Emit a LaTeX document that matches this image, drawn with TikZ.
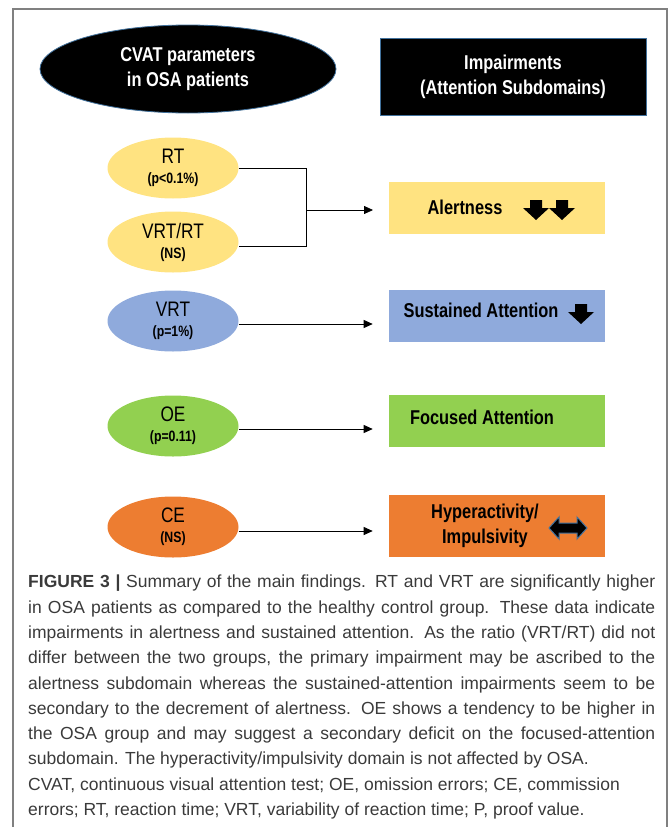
\documentclass[tikz,border=0pt]{standalone}
\usepackage{fontspec}
\setmainfont{Liberation Sans}
\newfontfamily\narrowfont[FakeStretch=0.82]{Liberation Sans}
\usepackage{xcolor}
\usepackage{tikz}
\usetikzlibrary{shapes.geometric, arrows.meta, positioning, calc}
\definecolor{frameGray}{HTML}{808080}
\definecolor{edgeBlue}{HTML}{41719C}
\definecolor{capGray}{HTML}{3A3A3A}
\definecolor{ylw}{HTML}{FFE381}
\definecolor{blu}{HTML}{8FAADC}
\definecolor{grn}{HTML}{92D050}
\definecolor{orn}{HTML}{ED7D31}
\tikzstyle{header} = [fill=black, draw=edgeBlue, line width=0.8pt, text=white, align=center, font=\narrowfont\bfseries\fontsize{20}{25}\selectfont]
\tikzstyle{param} = [ellipse, minimum width=131pt, minimum height=61pt, inner sep=0pt, align=center, font=\narrowfont\fontsize{21}{20}\selectfont]
\tikzstyle{subdom} = [rectangle, minimum width=216pt, minimum height=52pt, inner sep=0pt]
\tikzstyle{subtext} = [inner sep=0pt, align=center, font=\narrowfont\bfseries\fontsize{20}{25}\selectfont]
\tikzstyle{arrow} = [line width=0.8pt, -{Triangle[length=9pt,width=8pt]}]
\newcommand{\pval}[1]{{\bfseries\fontsize{15}{15}\selectfont #1}}
% block arrow pointing down, centred on #1
\newcommand{\dnblock}[1]{\fill (#1) ++(-6,-10) -- ++(12,0) -- ++(0,8) -- ++(7,0) -- ++(-13,12) -- ++(-13,-12) -- ++(7,0) -- cycle;}

\begin{document}
\begin{tikzpicture}[x=1pt, y=-1pt]
\useasboundingbox (0,0) rectangle (669,827);
% frame
\draw [frameGray, line width=1.2pt] (13,827) -- (13,9) -- (667,9) -- (667,827);

% headers
\node (cvat) [header, ellipse, minimum width=296pt, minimum height=88pt, inner sep=0pt] at (188,69) {CVAT parameters\\in OSA patients};
\node (impair) [header, rectangle, minimum width=266pt, minimum height=77pt, inner sep=0pt] at (513,76.5) {Impairments\\(Attention Subdomains)};

% parameters
\node (rt) [param, fill=ylw] at (173,168) {RT\\\pval{(p<0.1\%)}};
\node (vrtrt) [param, fill=ylw] at (173,242) {VRT/RT\\\pval{(NS)}};
\node (vrt) [param, fill=blu] at (173,321) {VRT\\\pval{(p=1\%)}};
\node (oe) [param, fill=grn] at (173,426) {OE\\\pval{(p=0.11)}};
\node (ce) [param, fill=orn] at (173,527) {CE\\\pval{(NS)}};

% subdomains
\node (alert) [subdom, fill=ylw] at (497,208) {};
\node (sus) [subdom, fill=blu] at (497,315.5) {};
\node (foc) [subdom, fill=grn] at (497,421) {};
\node (hyp) [subdom, fill=orn, minimum height=62pt] at (497,526) {};

\node (alertTxt) [subtext] at ([xshift=-32pt, yshift=1pt]alert.center) {Alertness};
\dnblock{536,210}
\dnblock{562,210}
\node (susTxt) [subtext] at ([xshift=-16pt, yshift=5pt]sus.center) {Sustained Attention};
\dnblock{581,314}
\node (focTxt) [subtext] at ([xshift=-15pt, yshift=4pt]foc.center) {Focused Attention};
\node (hypTxt) [subtext] at ([xshift=-12pt]hyp.center) {Hyperactivity/\\Impulsivity};
\filldraw [fill=black, draw=edgeBlue, line width=1pt] (568,528) ++(-19,0) -- ++(10,-11) -- ++(0,6) -- ++(18,0) -- ++(0,-6) -- ++(10,11) -- ++(-10,11) -- ++(0,-6) -- ++(-18,0) -- ++(0,6) -- cycle;

% connectors
\coordinate (join) at (306,210);
\draw [line width=0.8pt] (rt.east) -- (rt.east -| join) -- ([yshift=-4pt]vrtrt.east -| join) -- ([yshift=-4pt]vrtrt.east);
\draw [arrow] (join) -- ++(67,0);
\draw [arrow] ([yshift=-3pt]vrt.east) -- ++(134,0);
\draw [arrow] ([yshift=-3pt]oe.east) -- ++(134,0);
\draw [arrow] ([yshift=-4pt]ce.east) -- ++(134,0);

% caption
\node (caption) [anchor=north west, inner sep=0pt, text width=627pt, align=justify, text=capGray, font=\fontsize{17.5}{25.3}\selectfont] at (28,575) {%
\textbf{FIGURE 3 |} Summary of the main findings. RT and VRT are significantly higher\break
in OSA patients as compared to the healthy control group. These data indicate\break
impairments in alertness and sustained attention. As the ratio (VRT/RT) did not\break
differ between the two groups, the primary impairment may be ascribed to the\break
alertness subdomain whereas the sustained-attention impairments seem to be\break
secondary to the decrement of alertness. OE shows a tendency to be higher in\break
the OSA group and may suggest a secondary deficit on the focused-attention\break
subdomain. The hyperactivity/impulsivity domain is not affected by OSA.\hfill\break
CVAT, continuous visual attention test; OE, omission errors; CE, commission\hfill\break
errors; RT, reaction time; VRT, variability of reaction time; P, proof value.\hfill};
\end{tikzpicture}
\end{document}
